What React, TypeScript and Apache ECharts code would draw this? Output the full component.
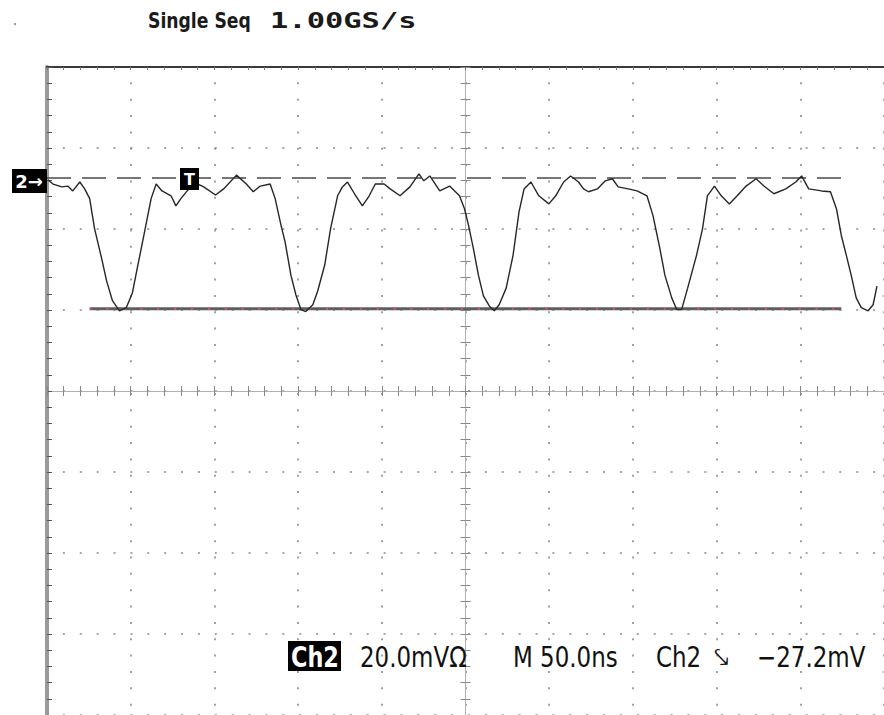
import React, { useEffect, useRef } from "react";
import * as echarts from "echarts";

// Channel 2 trace: time (ns, relative to screen centre) and level (mV, relative to screen centre)
const TIME_NS = [
  -249.4, -246.4, -241.1, -237.6, -234.6, -230.4, -227.5, -224.5, -221.6, -217.4,
  -214.4, -210.9, -206.7, -202.6, -199.0, -196.1, -191.9, -187.8, -184.8, -181.3,
  -175.9, -173.0, -170.0, -165.3, -162.3, -156.4, -149.3, -144.5, -136.8, -130.9,
  -126.8, -122.6, -116.7, -113.7, -110.2, -107.8, -104.3, -101.3, -98.3, -95.4,
  -91.2, -88.3, -84.1, -80.6, -76.4, -73.5, -70.5, -66.3, -61.6, -57.5,
  -53.9, -48.6, -45.0, -39.1, -33.2, -27.8, -24.9, -21.3, -15.4, -9.5,
  -3.6, -0.6, 1.8, 4.7, 7.7, 10.7, 14.2, 17.2, 20.1, 24.3,
  28.4, 32.0, 35.0, 39.1, 43.8, 49.8, 53.9, 58.6, 62.8, 67.5,
  70.5, 73.5, 78.8, 83.5, 87.7, 91.2, 97.2, 102.5, 108.4, 112.0,
  116.1, 119.1, 123.2, 126.2, 129.1, 132.7, 138.0, 141.6, 144.5, 148.7,
  152.8, 157.6, 162.3, 167.6, 173.6, 178.3, 184.2, 191.3, 197.3, 200.8,
  205.0, 212.7, 218.0, 221.6, 224.5, 227.5, 230.4, 233.4, 236.4, 240.5,
  243.5, 245.8,
];
const CH2_MV = [
  52.1, 51.1, 50.4, 50.6, 49.4, 51.6, 49.9, 47.5, 40.1, 32.8,
  27.2, 22.3, 19.8, 20.6, 24.2, 30.3, 38.9, 47.5, 51.1, 49.4,
  48.2, 45.7, 47.5, 49.9, 51.6, 50.4, 48.4, 49.9, 53.3, 51.1,
  49.2, 50.6, 51.1, 47.5, 40.9, 36.9, 28.6, 23.7, 20.1, 19.6,
  21.3, 24.7, 31.1, 40.1, 48.2, 50.4, 51.6, 48.7, 45.7, 48.2,
  51.1, 51.1, 49.9, 48.2, 50.4, 53.6, 51.9, 53.1, 49.4, 50.6,
  48.2, 45.0, 40.9, 35.2, 28.6, 23.5, 21.0, 19.8, 21.3, 25.4,
  33.5, 44.3, 49.9, 51.6, 48.2, 46.2, 48.2, 51.6, 53.1, 51.6,
  49.9, 49.2, 49.9, 51.9, 52.4, 50.4, 49.9, 49.4, 48.2, 43.3,
  35.2, 28.6, 23.0, 20.1, 20.1, 25.4, 33.5, 40.1, 48.2, 50.6,
  48.2, 46.2, 48.2, 50.6, 52.4, 50.6, 48.7, 49.9, 51.6, 53.1,
  49.9, 49.4, 49.2, 45.0, 38.4, 33.5, 28.6, 23.0, 20.6, 19.8,
  21.3, 25.9,
];

// Cursors
const UPPER_CURSOR_TIME = [-250, 224.5];
const UPPER_CURSOR_MV = [52.6, 52.6];
const LOWER_CURSOR_TIME = [-224.5, 224.5];
const LOWER_CURSOR_MV = [20.3, 20.3];

// Screen: 10 x 8 divisions of 50 ns and 20 mV
const TIME_MIN = -250;
const TIME_MAX = 250;
const TIME_DIV = 50;
const MV_MIN = -80;
const MV_MAX = 80;
const MV_DIV = 20;

const TOP_TITLE = ["Single Seq", "1.00GS/s"];
const BOTTOM_TEXTS = ["Ch2", "20.0mVΩ", "M 50.0ns", "Ch2", "⤥", "−27.2mV"];

export default function App() {
  const ref = useRef<HTMLDivElement>(null);

  useEffect(() => {
    if (!ref.current) return;
    const chart = echarts.init(ref.current, undefined, { renderer: "svg" });

    const pair = (xs: number[], ys: number[]) => xs.map((x, i) => [x, ys[i]]);

    const gridDot = "#8a8a8a";
    const baseX = {
      type: "value",
      min: TIME_MIN,
      max: TIME_MAX,
      interval: TIME_DIV,
      axisLabel: { show: false },
    };
    const baseY = {
      type: "value",
      min: MV_MIN,
      max: MV_MAX,
      interval: MV_DIV,
      axisLabel: { show: false },
    };

    const option: any = {
      animation: false,
      backgroundColor: "#ffffff",
      grid: { left: 47, top: 67, right: -7, bottom: -6, containLabel: false },
      xAxis: [
        {
          ...baseX,
          position: "bottom",
          axisLine: { show: true, onZero: true, onZeroAxisIndex: 0, lineStyle: { color: "#b0b0b0", width: 1 } },
          axisTick: { show: true, inside: true, length: 5, lineStyle: { color: "#888" } },
          minorTick: { show: true, splitNumber: 5, length: 5, lineStyle: { color: "#888" } },
          splitLine: {
            show: true,
            lineStyle: { color: gridDot, width: 1.6, type: [2, 14.35], dashOffset: 1 },
          },
        },
        {
          ...baseX,
          position: "bottom",
          axisLine: { show: true, onZero: true, onZeroAxisIndex: 0, lineStyle: { color: "#b0b0b0", width: 1 } },
          axisTick: { show: true, inside: false, length: 5, lineStyle: { color: "#888" } },
          minorTick: { show: true, splitNumber: 5, length: 5, lineStyle: { color: "#888" } },
          splitLine: { show: false },
        },
        {
          ...baseX,
          position: "top",
          axisLine: { show: true, onZero: false, lineStyle: { color: "#3a3a3a", width: 2 } },
          axisTick: { show: true, inside: true, length: 3, lineStyle: { color: "#777" } },
          minorTick: { show: true, splitNumber: 5, length: 3, lineStyle: { color: "#777" } },
          splitLine: { show: false },
        },
      ],
      yAxis: [
        {
          ...baseY,
          position: "left",
          axisLine: { show: true, onZero: true, onZeroAxisIndex: 0, lineStyle: { color: "#b0b0b0", width: 1 } },
          axisTick: { show: true, inside: true, length: 5, lineStyle: { color: "#888" } },
          minorTick: { show: true, splitNumber: 5, length: 5, lineStyle: { color: "#888" } },
          splitLine: {
            show: true,
            lineStyle: { color: gridDot, width: 1.6, type: [2, 14.88], dashOffset: 1 },
          },
        },
        {
          ...baseY,
          position: "left",
          axisLine: { show: true, onZero: true, onZeroAxisIndex: 0, lineStyle: { color: "#b0b0b0", width: 1 } },
          axisTick: { show: true, inside: false, length: 5, lineStyle: { color: "#888" } },
          minorTick: { show: true, splitNumber: 5, length: 5, lineStyle: { color: "#888" } },
          splitLine: { show: false },
        },
        {
          ...baseY,
          position: "left",
          axisLine: { show: true, onZero: false, lineStyle: { color: "#9a9a9a", width: 4 } },
          axisTick: { show: true, inside: true, length: 5, lineStyle: { color: "#555" } },
          minorTick: { show: true, splitNumber: 5, length: 5, lineStyle: { color: "#555" } },
          splitLine: { show: false },
        },
      ],
      series: [
        {
          name: "upper cursor",
          type: "line",
          data: pair(UPPER_CURSOR_TIME, UPPER_CURSOR_MV),
          symbol: "none",
          lineStyle: { color: "#4a4a4a", width: 1.6, type: [24, 11] },
          z: 3,
        },
        {
          name: "lower cursor",
          type: "line",
          data: pair(LOWER_CURSOR_TIME, LOWER_CURSOR_MV),
          symbol: "none",
          lineStyle: { color: "#5e5e5e", width: 3 },
          z: 3,
        },
        {
          name: "lower cursor dots",
          type: "line",
          data: pair(LOWER_CURSOR_TIME, LOWER_CURSOR_MV),
          symbol: "none",
          lineStyle: { color: "#e8506a", width: 2, type: [2, 14.88] },
          z: 4,
        },
        {
          name: "Ch2",
          type: "line",
          data: pair(TIME_NS, CH2_MV),
          symbol: "none",
          lineStyle: { color: "#262626", width: 1.4 },
          z: 5,
        },
      ],
      graphic: [
        { type: "circle", shape: { cx: 15, cy: 24, r: 1.2 }, style: { fill: "#999" } },
        {
          type: "text",
          x: 148,
          y: 21,
          style: {
            text: TOP_TITLE[0],
            fill: "#1a1a1a",
            font: "bold 21px 'DejaVu Sans'",
            align: "left",
            verticalAlign: "middle",
          },
          scaleX: 0.82,
        },
        {
          type: "text",
          x: 270,
          y: 21,
          style: {
            text: TOP_TITLE[1],
            fill: "#1a1a1a",
            font: "bold 21px 'DejaVu Sans Mono'",
            align: "left",
            verticalAlign: "middle",
          },
          scaleX: 1.45,
        },
        // channel ground marker
        { type: "rect", shape: { x: 12, y: 169, width: 35, height: 24 }, style: { fill: "#000" }, z: 10 },
        {
          type: "text",
          x: 29,
          y: 181,
          z: 11,
          style: { text: "2→", fill: "#fff", font: "bold 18px 'DejaVu Sans'", align: "center", verticalAlign: "middle" },
        },
        // trigger position marker
        { type: "rect", shape: { x: 180, y: 168, width: 19, height: 22 }, style: { fill: "#000" }, z: 10 },
        {
          type: "text",
          x: 189.5,
          y: 179,
          z: 11,
          style: { text: "T", fill: "#fff", font: "bold 16px 'DejaVu Sans'", align: "center", verticalAlign: "middle" },
        },
        // bottom readout
        { type: "rect", shape: { x: 288, y: 641, width: 53, height: 30 }, style: { fill: "#000" }, z: 10 },
        {
          type: "text",
          x: 291,
          y: 657,
          z: 11,
          scaleX: 0.8,
          style: { text: BOTTOM_TEXTS[0], fill: "#fff", font: "bold 28px 'DejaVu Sans'", align: "left", verticalAlign: "middle" },
        },
        {
          type: "text",
          x: 360,
          y: 657,
          z: 11,
          scaleX: 0.82,
          style: { text: BOTTOM_TEXTS[1], fill: "#111", font: "28px 'DejaVu Sans'", align: "left", verticalAlign: "middle" },
        },
        {
          type: "text",
          x: 513,
          y: 657,
          z: 11,
          scaleX: 0.82,
          style: { text: BOTTOM_TEXTS[2], fill: "#111", font: "28px 'DejaVu Sans'", align: "left", verticalAlign: "middle" },
        },
        {
          type: "text",
          x: 656,
          y: 657,
          z: 11,
          scaleX: 0.82,
          style: { text: BOTTOM_TEXTS[3], fill: "#111", font: "28px 'DejaVu Sans'", align: "left", verticalAlign: "middle" },
        },
        {
          type: "text",
          x: 714,
          y: 657,
          z: 11,
          style: { text: BOTTOM_TEXTS[4], fill: "#111", font: "26px 'DejaVu Sans'", align: "left", verticalAlign: "middle" },
        },
        {
          type: "text",
          x: 757,
          y: 657,
          z: 11,
          scaleX: 0.82,
          style: { text: BOTTOM_TEXTS[5], fill: "#111", font: "28px 'DejaVu Sans'", align: "left", verticalAlign: "middle" },
        },
      ],
    };

    chart.setOption(option);
    return () => chart.dispose();
  }, []);

  return (
    <div
      ref={ref}
      style={{ position: "absolute", left: 0, top: 0, width: 884, height: 715, background: "#fff" }}
    />
  );
}
